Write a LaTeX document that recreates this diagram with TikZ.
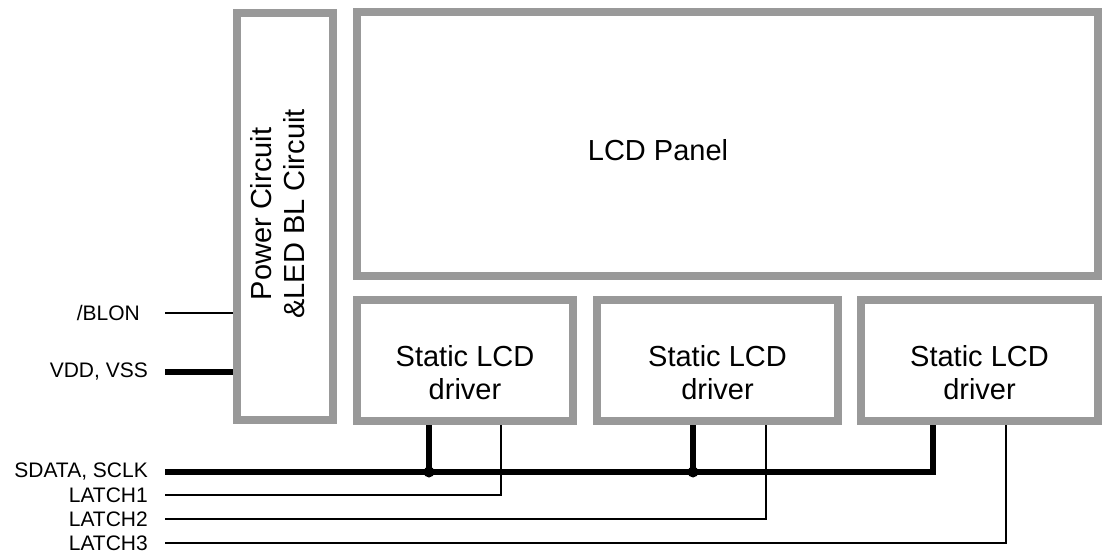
\documentclass[tikz,border=0pt]{standalone}
\usepackage{fontspec}
\setmainfont{Liberation Sans}
\usetikzlibrary{positioning}

\definecolor{boxgray}{RGB}{153,153,153}

\tikzset{
  block/.style={
    draw=boxgray,
    line width=8pt,
    rectangle,
    inner sep=0pt
  },
  blocktext/.style={
    align=center,
    font=\fontsize{29}{33}\selectfont
  },
  sig/.style={
    anchor=east,
    inner sep=0pt,
    font=\fontsize{21}{24}\selectfont
  },
  thinwire/.style={line width=1.5pt},
  buswire/.style={line width=5.5pt},
  junction/.style={
    circle,
    fill,
    inner sep=0pt,
    minimum size=11pt
  }
}

\begin{document}
\begin{tikzpicture}[x=1pt,y=-1pt]
  \useasboundingbox (0,0) rectangle (1102,556);

  % blocks
  \node[block, minimum width=96pt, minimum height=407pt] (power) at (285,216.5) {};
  \node[blocktext, rotate=90] (powertxt) at (278,214) {Power Circuit\\\&LED BL Circuit};

  \node[block, minimum width=741pt, minimum height=264pt] (panel) at (727.5,144) {};
  \node[blocktext] (paneltxt) at (658,150) {LCD Panel};

  \node[block, minimum width=216pt, minimum height=121pt] (drv1) at (465,360.5) {};
  \node[block, minimum width=241pt, minimum height=121pt] (drv2) at (717.5,360.5) {};
  \node[block, minimum width=237pt, minimum height=121pt] (drv3) at (979.5,360.5) {};
  \node[blocktext] (drv1txt) at (465,373) {Static LCD\\driver};
  \node[blocktext] (drv2txt) at (717.5,373) {Static LCD\\driver};
  \node[blocktext] (drv3txt) at (979.5,373) {Static LCD\\driver};

  % signal names
  \node[sig] (blon) at (140,313) {/BLON};
  \node[sig] (vdd) at (148,372) {VDD, VSS};
  \node[sig] (sdata) at (148,472) {SDATA, SCLK};
  \node[sig] (latchA) at (148,495) {LATCH1};
  \node[sig] (latchB) at (148,519) {LATCH2};
  \node[sig] (latchC) at (148,543) {LATCH3};

  \draw[thinwire] ([xshift=25pt]blon.east) -- (blon.east -| power.west);
  \draw[buswire] ([xshift=17pt]vdd.east) -- (vdd.east -| power.west);

  % serial bus
  \coordinate (j1) at (429,472);
  \coordinate (j2) at (693,472);
  \draw[buswire] ([xshift=17pt]sdata.east) -| ([xshift=-46.5pt]drv3.south);
  \draw[buswire] (j1) -- (j1 |- drv1.south);
  \draw[buswire] (j2) -- (j2 |- drv2.south);
  \node[junction] (dot1) at (j1) {};
  \node[junction] (dot2) at (j2) {};

  % latch lines
  \draw[thinwire] ([xshift=17pt]latchA.east) -| ([xshift=36pt]drv1.south);
  \draw[thinwire] ([xshift=17pt]latchB.east) -| ([xshift=48.5pt]drv2.south);
  \draw[thinwire] ([xshift=17pt]latchC.east) -| ([xshift=26.5pt]drv3.south);
\end{tikzpicture}
\end{document}
